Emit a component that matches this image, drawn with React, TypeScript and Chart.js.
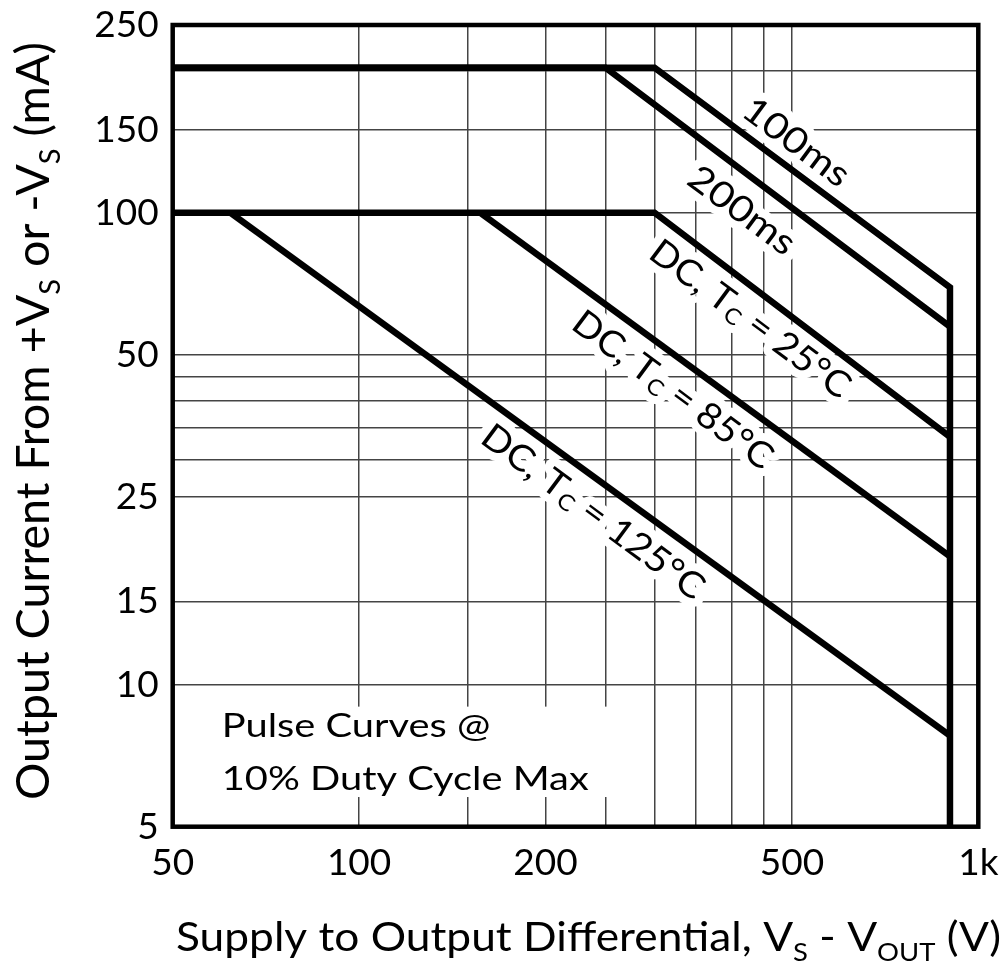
import React, { useEffect, useRef } from 'react';
import { Chart, registerables } from 'chart.js';

Chart.register(...registerables);

const FONT = 'Lato, "Open Sans", "DejaVu Sans", sans-serif';

// ---- axes: gridlines and tick labels ----
const xGridValues = [50, 100, 150, 200, 250, 300, 350, 400, 450, 500, 1000];
const xTickLabels: Record<number, string> = { 50: '50', 100: '100', 200: '200', 500: '500', 1000: '1k' };
const yGridValues = [5, 10, 15, 25, 30, 35, 40, 45, 50, 100, 150, 200, 250];
const yTickLabels: Record<number, string> = { 250: '250', 150: '150', 100: '100', 50: '50', 25: '25', 15: '15', 10: '10', 5: '5' };

// ---- series (V = supply-to-output differential, I = output current mA) ----
const pulse100msV = [50, 300, 900, 900];
const pulse100msI = [203, 203, 69.5, 5];
const pulse200msV = [50, 250, 900];
const pulse200msI = [203, 203, 57.4];
const dc25V = [50, 300, 900];
const dc25I = [100, 100, 33.5];
const dc85V = [157, 900];
const dc85I = [100, 18.7];
const dc125V = [62, 900];
const dc125I = [100, 7.8];

type Run = { t: string; sub?: boolean };

const curveLabels: { runs: Run[]; v: number; i: number; len: number }[] = [
  { runs: [{ t: '100ms' }], v: 508, i: 141, len: 124 },
  { runs: [{ t: '200ms' }], v: 415, i: 101, len: 124 },
  { runs: [{ t: 'DC, T' }, { t: 'C', sub: true }, { t: ' = 25°C' }], v: 428, i: 59.5, len: 240 },
  { runs: [{ t: 'DC, T' }, { t: 'C', sub: true }, { t: ' = 85°C' }], v: 321, i: 42.1, len: 240 },
  { runs: [{ t: 'DC, T' }, { t: 'C', sub: true }, { t: ' = 125°C' }], v: 238.6, i: 23.2, len: 268 },
];

const noteLine1 = 'Pulse Curves @';
const noteLine2 = '10% Duty Cycle Max';

const xTitleRuns: Run[] = [
  { t: 'Supply to Output Differential, V' },
  { t: 'S', sub: true },
  { t: ' - V' },
  { t: 'OUT', sub: true },
  { t: ' (V)' },
];
const yTitleRuns: Run[] = [
  { t: 'Output Current From +V' },
  { t: 'S', sub: true },
  { t: ' or -V' },
  { t: 'S', sub: true },
  { t: ' (mA)' },
];

const toPoints = (xs: number[], ys: number[]) => xs.map((x, k) => ({ x, y: ys[k] }));

function runFont(size: number, sub?: boolean) {
  return `${sub ? size * 0.62 : size}px ${FONT}`;
}
function measureRuns(ctx: CanvasRenderingContext2D, runs: Run[], size: number) {
  let w = 0;
  for (const r of runs) {
    ctx.font = runFont(size, r.sub);
    w += ctx.measureText(r.t).width;
  }
  return w;
}
function drawRuns(ctx: CanvasRenderingContext2D, runs: Run[], size: number, x: number, y: number, stroke: boolean) {
  let cx = x;
  for (const r of runs) {
    ctx.font = runFont(size, r.sub);
    const dy = r.sub ? size * 0.24 : 0;
    if (stroke) ctx.strokeText(r.t, cx, y + dy);
    else ctx.fillText(r.t, cx, y + dy);
    cx += ctx.measureText(r.t).width;
  }
}
function drawFitted(
  ctx: CanvasRenderingContext2D,
  runs: Run[],
  size: number,
  targetLen: number,
  x: number,
  y: number,
  angle: number,
  center: boolean,
  baseline: CanvasTextBaseline,
  halo: number
) {
  ctx.save();
  ctx.translate(x, y);
  ctx.rotate(angle);
  const w = measureRuns(ctx, runs, size);
  ctx.scale(targetLen / w, 1);
  ctx.textAlign = 'left';
  ctx.textBaseline = baseline;
  const sx = center ? -w / 2 : 0;
  if (halo > 0) {
    ctx.strokeStyle = '#fff';
    ctx.lineWidth = halo;
    ctx.lineJoin = 'round';
    drawRuns(ctx, runs, size, sx, 0, true);
  }
  ctx.fillStyle = '#000';
  drawRuns(ctx, runs, size, sx, 0, false);
  ctx.restore();
}

const annotationPlugin = {
  id: 'annotations',
  beforeDatasetsDraw(chart: any) {
    const ctx: CanvasRenderingContext2D = chart.ctx;
    const xs = chart.scales.x;
    const ys = chart.scales.y;
    const angle = Math.atan2(
      ys.getPixelForValue(pulse100msI[2]) - ys.getPixelForValue(pulse100msI[1]),
      xs.getPixelForValue(pulse100msV[2]) - xs.getPixelForValue(pulse100msV[1])
    );
    for (const lab of curveLabels) {
      drawFitted(ctx, lab.runs, 36, lab.len, xs.getPixelForValue(lab.v), ys.getPixelForValue(lab.i), angle, true, 'middle', 16);
    }
    // note box
    const left = xs.getPixelForValue(60);
    const b1 = ys.getPixelForValue(7.76);
    const b2 = ys.getPixelForValue(5.98);
    ctx.save();
    ctx.fillStyle = '#fff';
    ctx.fillRect(left - 24, b1 - 30, 395 + 24, b2 - b1 + 37);
    ctx.restore();
    ctx.save();
    ctx.font = runFont(33);
    const w2 = ctx.measureText(noteLine2).width;
    ctx.restore();
    const scaleX = 367 / w2;
    ctx.save();
    ctx.fillStyle = '#000';
    ctx.textBaseline = 'alphabetic';
    ctx.textAlign = 'left';
    ctx.font = runFont(33);
    ctx.translate(left, 0);
    ctx.scale(scaleX, 1);
    ctx.fillText(noteLine1, 0, b1);
    ctx.fillText(noteLine2, 0, b2);
    ctx.restore();
  },
  afterDraw(chart: any) {
    const ctx: CanvasRenderingContext2D = chart.ctx;
    const a = chart.chartArea;
    ctx.save();
    ctx.strokeStyle = '#000';
    ctx.lineWidth = 4.5;
    ctx.lineJoin = 'miter';
    ctx.strokeRect(a.left, a.top, a.right - a.left, a.bottom - a.top);
    // axis titles
    drawFitted(ctx, xTitleRuns, 40, 825, 176, 951, 0, false, 'alphabetic', 0);
    drawFitted(ctx, yTitleRuns, 46, 758, 49, 800, -Math.PI / 2, false, 'alphabetic', 0);
    ctx.restore();
  },
};

const zeroPadding = (s: any) => {
  s.paddingLeft = 0;
  s.paddingRight = 0;
  s.paddingTop = 0;
  s.paddingBottom = 0;
};

export default function App() {
  const ref = useRef<HTMLCanvasElement>(null);
  useEffect(() => {
    const lineStyle = {
      borderColor: '#000',
      backgroundColor: '#000',
      borderWidth: 6.5,
      pointRadius: 0,
      tension: 0,
      fill: false,
      borderJoinStyle: 'miter' as const,
      borderCapStyle: 'butt' as const,
    };
    const chart = new Chart(ref.current!, {
      type: 'line',
      data: {
        datasets: [
          { label: '100ms', data: toPoints(pulse100msV, pulse100msI), ...lineStyle },
          { label: '200ms', data: toPoints(pulse200msV, pulse200msI), ...lineStyle },
          { label: 'DC, Tc = 25°C', data: toPoints(dc25V, dc25I), ...lineStyle },
          { label: 'DC, Tc = 85°C', data: toPoints(dc85V, dc85I), ...lineStyle },
          { label: 'DC, Tc = 125°C', data: toPoints(dc125V, dc125I), ...lineStyle },
        ],
      },
      options: {
        responsive: false,
        animation: false,
        events: [],
        layout: { padding: { left: 0, top: 25, right: 29.7, bottom: 0 } },
        plugins: { legend: { display: false }, tooltip: { enabled: false } },
        scales: {
          x: {
            type: 'logarithmic',
            min: 50,
            max: 1000,
            afterBuildTicks: (s: any) => {
              s.ticks = xGridValues.map((v) => ({ value: v }));
            },
            afterFit: (s: any) => {
              s.height = 145.3;
              zeroPadding(s);
            },
            ticks: {
              autoSkip: false,
              maxRotation: 0,
              minRotation: 0,
              padding: 14,
              color: '#000',
              font: { family: FONT, size: 37 },
              callback: (v: any) => xTickLabels[Number(v)] ?? '',
            },
            grid: { color: '#444', lineWidth: 1.5, drawTicks: false },
            border: { display: false },
          },
          y: {
            type: 'logarithmic',
            min: 5,
            max: 250,
            afterBuildTicks: (s: any) => {
              s.ticks = yGridValues.map((v) => ({ value: v }));
            },
            afterFit: (s: any) => {
              s.width = 172.7;
              zeroPadding(s);
            },
            ticks: {
              autoSkip: false,
              padding: 14,
              color: '#000',
              font: { family: FONT, size: 37 },
              callback: (v: any) => yTickLabels[Number(v)] ?? '',
            },
            grid: { color: '#444', lineWidth: 1.5, drawTicks: false },
            border: { display: false },
          },
        },
      },
      plugins: [annotationPlugin],
    });
    return () => chart.destroy();
  }, []);
  return (
    <div style={{ position: 'fixed', left: 0, top: 0, width: 1008, height: 972, background: '#fff' }}>
      <canvas ref={ref} width={1008} height={972} style={{ display: 'block', width: 1008, height: 972 }} />
    </div>
  );
}
